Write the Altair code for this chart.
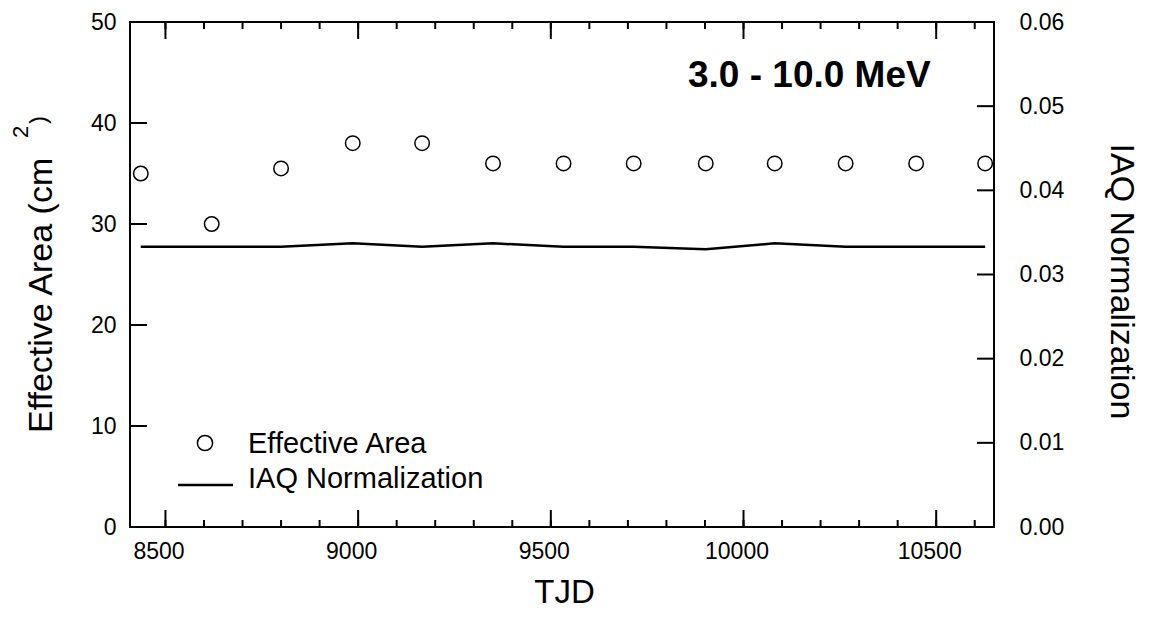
import altair as alt
import pandas as pd

# ---- data ----
tjd = [8436, 8620, 8800, 8986, 9166, 9350, 9533, 9715, 9902, 10081, 10265, 10448, 10627]
eff_area = [35.0, 30.0, 35.5, 38.0, 38.0, 36.0, 36.0, 36.0, 36.0, 36.0, 36.0, 36.0, 36.0]
iaq_norm = [0.0333, 0.0333, 0.0333, 0.0337, 0.0333, 0.0337, 0.0333, 0.0333, 0.0330,
            0.0337, 0.0333, 0.0333, 0.0333]

x_major = [8500, 9000, 9500, 10000, 10500]
x_minor = list(range(8500, 10700, 100))
y_left_ticks = [0, 10, 20, 30, 40, 50]
y_right_ticks = [0.00, 0.01, 0.02, 0.03, 0.04, 0.05, 0.06]

X_DOMAIN = [8408, 10650]
YL_DOMAIN = [0, 50]
YR_DOMAIN = [0, 0.06]

W, H = 864, 505
FONT = "Liberation Sans"

df = pd.DataFrame({"TJD": tjd, "area": eff_area, "iaq": iaq_norm})
xs = alt.Scale(domain=X_DOMAIN, nice=False, zero=False)
yls = alt.Scale(domain=YL_DOMAIN, nice=False)
yrs = alt.Scale(domain=YR_DOMAIN, nice=False)

x_axis = alt.Axis(
    values=x_major, format="d", labelFontSize=23, labelPadding=13, labelOffset=-7,
    title="TJD", titleFontSize=33, titleFontWeight="normal", titleY=75, titleX=434,
    titleBaseline="alphabetic", titleAlign="center", orient="bottom")
yl_axis = alt.Axis(values=y_left_ticks, format="d", labelFontSize=23, labelPadding=14,
                   title=None, orient="left")
yr_axis = alt.Axis(
    orient="right", values=y_right_ticks, format=".2f", labelFontSize=23, labelPadding=25,
    title="IAQ Normalization", titleFontSize=34, titleFontWeight="normal", titleAngle=90,
    titleX=116, titleY=259, titleAlign="center", titleBaseline="alphabetic")

points = alt.Chart(df).mark_point(
    shape="circle", filled=False, color="black", size=210, strokeWidth=1.5, opacity=1
).encode(
    x=alt.X("TJD:Q", scale=xs, axis=x_axis),
    y=alt.Y("area:Q", scale=yls, axis=yl_axis),
)

def rules_x(vals, y1, y2):
    return alt.Chart(pd.DataFrame({"TJD": vals})).mark_rule(color="black", strokeWidth=2).encode(
        x=alt.X("TJD:Q", scale=xs, axis=x_axis), y=alt.value(y1), y2=alt.value(y2))

left_ticks = alt.Chart(pd.DataFrame({"area": y_left_ticks})).mark_rule(color="black", strokeWidth=2).encode(
    y=alt.Y("area:Q", scale=yls, axis=yl_axis), x=alt.value(0), x2=alt.value(17))

def txt(s, x, y, size, **kw):
    return alt.Chart(pd.DataFrame({"t": [s]})).mark_text(
        font=FONT, fontSize=size, color="black", baseline="alphabetic", **kw
    ).encode(text="t:N", x=alt.value(x), y=alt.value(y))

label_main = txt("3.0 - 10.0 MeV", 558, 65, 37, align="left", fontWeight="bold")
ytitle_main = txt("Effective Area (cm", -78, 411, 34, align="left", angle=270)
ytitle_sup = txt("2", -102, 116, 22, align="left", angle=270)
ytitle_par = txt(")", -84, 102, 24, align="left", angle=270)

leg_pt = alt.Chart(pd.DataFrame({"t": ["Effective Area"]})).mark_point(
    shape="circle", filled=False, color="black", size=230, strokeWidth=1.5, opacity=1
).encode(x=alt.value(75), y=alt.value(421))
leg_pt_txt = txt("Effective Area", 118, 431, 29, align="left")
leg_line = alt.Chart(pd.DataFrame({"t": ["IAQ Normalization"]})).mark_rule(
    color="black", strokeWidth=2.5
).encode(x=alt.value(48), x2=alt.value(103), y=alt.value(463))
leg_line_txt = txt("IAQ Normalization", 118, 466, 29, align="left")

left_group = alt.layer(
    points, left_ticks,
    rules_x(x_major, H, H - 17), rules_x(x_minor, H, H - 7),
    rules_x(x_major, 0, 17), rules_x(x_minor, 0, 7),
    label_main, ytitle_main, ytitle_sup, ytitle_par,
    leg_pt, leg_pt_txt, leg_line, leg_line_txt,
)

line = alt.Chart(df).mark_line(color="black", strokeWidth=2.5).encode(
    x=alt.X("TJD:Q", scale=xs, axis=x_axis),
    y=alt.Y("iaq:Q", scale=yrs, axis=yr_axis),
)
right_ticks = alt.Chart(pd.DataFrame({"iaq": y_right_ticks})).mark_rule(color="black", strokeWidth=2).encode(
    y=alt.Y("iaq:Q", scale=yrs, axis=yr_axis), x=alt.value(W - 17), x2=alt.value(W))

right_group = alt.layer(line, right_ticks)

chart = alt.layer(left_group, right_group).resolve_scale(y="independent").properties(
    width=W, height=H,
    background="white",
    autosize=alt.AutoSizeParams(type="none"),
    padding={"left": 122, "top": 14, "right": 147, "bottom": 82},
).configure_view(stroke="black", strokeWidth=2).configure_axis(
    domain=False, ticks=False, grid=False, labelFont=FONT, titleFont=FONT,
    labelColor="black", titleColor="black",
)

chart.save("out.html", embed_options={"renderer": "svg", "actions": False})
